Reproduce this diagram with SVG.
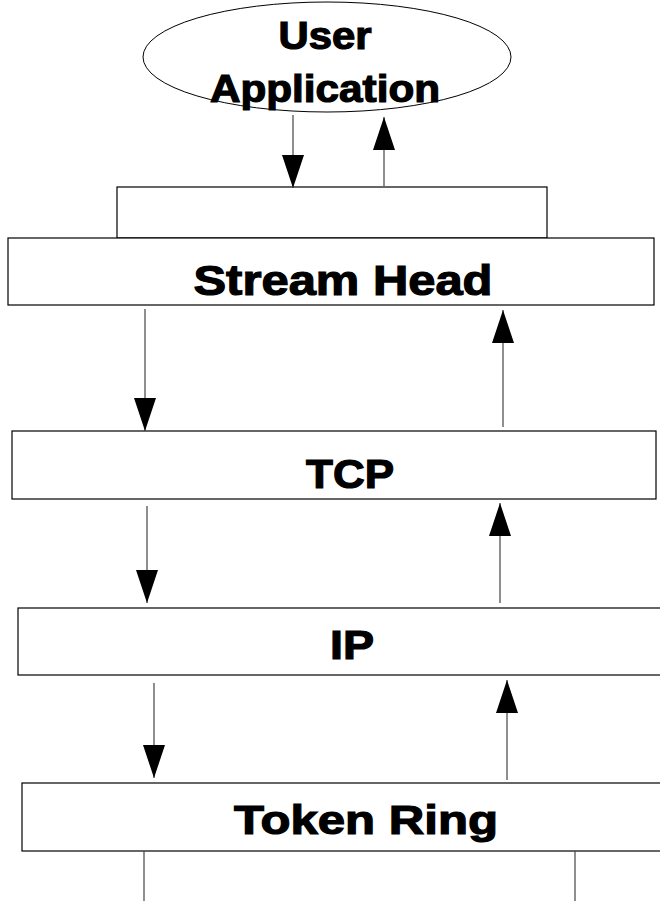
<svg xmlns="http://www.w3.org/2000/svg" width="660" height="901" viewBox="0 0 660 901">
<style>
.box{fill:#fff;stroke:#000;stroke-width:1.2}
.lbl{font-family:"Liberation Sans",Arial,sans-serif;font-weight:bold;fill:#000;stroke:#000;stroke-width:1.2;text-anchor:middle}
.con{stroke:#444;stroke-width:1.2;fill:none}
</style>
<defs>
<marker id="ah" markerUnits="userSpaceOnUse" markerWidth="34" markerHeight="24" refX="33" refY="11" orient="auto">
<path d="M0,0 L33,11 L0,22 z" fill="#000"/>
</marker>
</defs>
<rect width="660" height="901" fill="#fff"/>
<g id="user-app">
<ellipse cx="327" cy="57" rx="184" ry="55" fill="#fff" stroke="#000" stroke-width="1"/>
<text class="lbl" x="325" y="49" font-size="38" textLength="93" lengthAdjust="spacingAndGlyphs">User</text>
<text class="lbl" x="325" y="102" font-size="38" textLength="230" lengthAdjust="spacingAndGlyphs">Application</text>
</g>
<g id="stream-head">
<rect class="box" x="117" y="187" width="430" height="51"/>
<rect class="box" x="8" y="238" width="646" height="67"/>
<text class="lbl" x="343" y="295" font-size="43" textLength="299" lengthAdjust="spacingAndGlyphs">Stream Head</text>
</g>
<g id="tcp">
<rect class="box" x="12" y="431" width="644" height="68"/>
<text class="lbl" x="350" y="488" font-size="41" textLength="88" lengthAdjust="spacingAndGlyphs">TCP</text>
</g>
<g id="ip">
<rect class="box" x="18" y="608" width="660" height="67"/>
<text class="lbl" x="352" y="659" font-size="41" textLength="44" lengthAdjust="spacingAndGlyphs">IP</text>
</g>
<g id="token-ring">
<rect class="box" x="22" y="783" width="660" height="68"/>
<text class="lbl" x="366" y="834" font-size="41" textLength="264" lengthAdjust="spacingAndGlyphs">Token Ring</text>
</g>
<g id="connectors">
<line class="con" x1="293" y1="115" x2="293" y2="188" marker-end="url(#ah)"/>
<line class="con" x1="384" y1="186" x2="384" y2="117" marker-end="url(#ah)"/>
<line class="con" x1="145" y1="309" x2="145" y2="431" marker-end="url(#ah)"/>
<line class="con" x1="503" y1="427" x2="503" y2="310" marker-end="url(#ah)"/>
<line class="con" x1="147" y1="506" x2="147" y2="603" marker-end="url(#ah)"/>
<line class="con" x1="500" y1="603" x2="500" y2="503" marker-end="url(#ah)"/>
<line class="con" x1="154" y1="683" x2="154" y2="778" marker-end="url(#ah)"/>
<line class="con" x1="507" y1="780" x2="507" y2="680" marker-end="url(#ah)"/>
<line class="con" x1="144" y1="851" x2="144" y2="901"/>
<line class="con" x1="575" y1="851" x2="575" y2="901"/>
</g>
</svg>
